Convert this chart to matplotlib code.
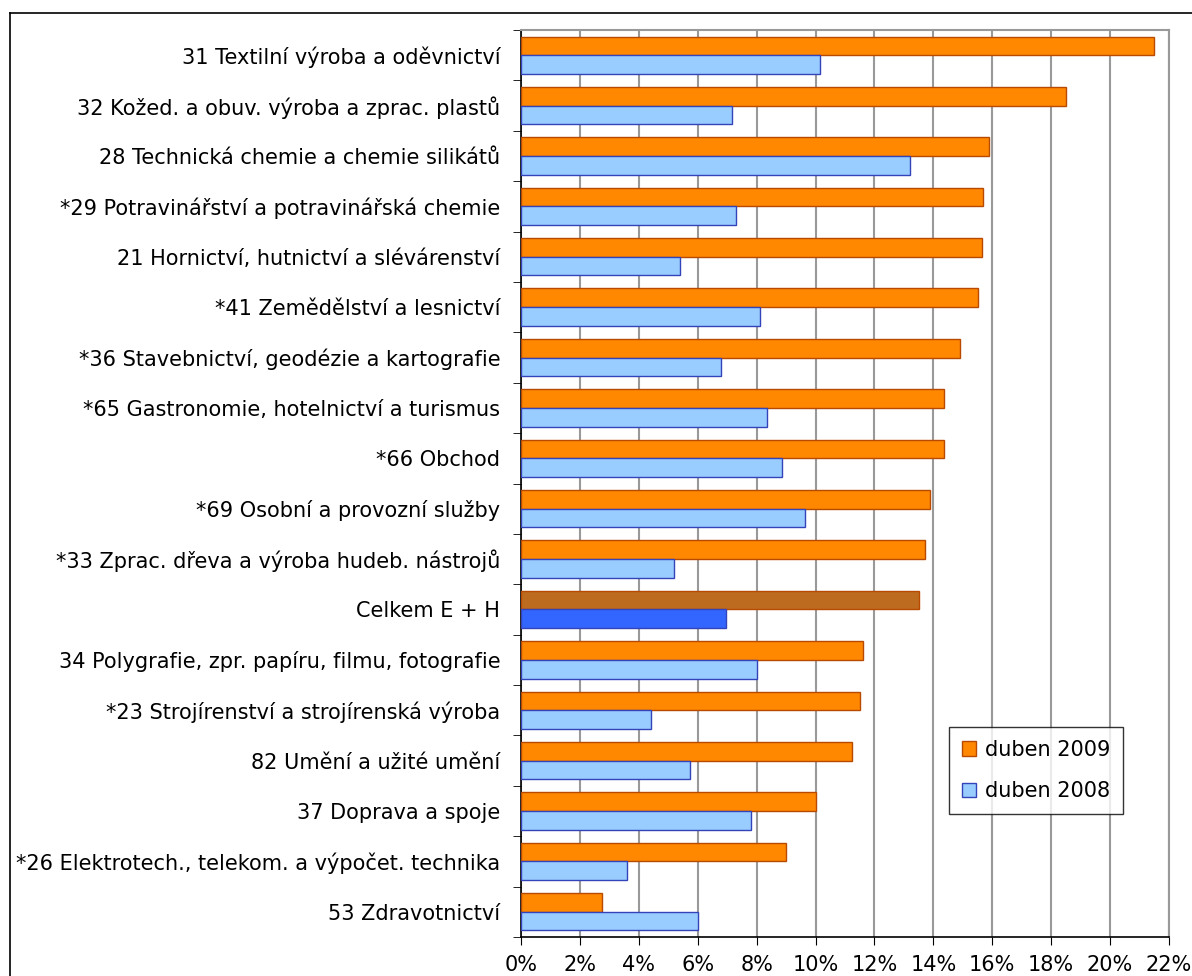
import matplotlib.pyplot as plt
import numpy as np
from matplotlib.lines import Line2D
from matplotlib.patches import Patch

categories = [
    "31 Textilní výroba a oděvnictví",
    "32 Kožed. a obuv. výroba a zprac. plastů",
    "28 Technická chemie a chemie silikátů",
    "*29 Potravinářství a potravinářská chemie",
    "21 Hornictví, hutnictví a slévárenství",
    "*41 Zemědělství a lesnictví",
    "*36 Stavebnictví, geodézie a kartografie",
    "*65 Gastronomie, hotelnictví a turismus",
    "*66 Obchod",
    "*69 Osobní a provozní služby",
    "*33 Zprac. dřeva a výroba hudeb. nástrojů",
    "Celkem E + H",
    "34 Polygrafie, zpr. papíru, filmu, fotografie",
    "*23 Strojírenství a strojírenská výroba",
    "82 Umění a užité umění",
    "37 Doprava a spoje",
    "*26 Elektrotech., telekom. a výpočet. technika",
    "53 Zdravotnictví",
]
duben_2009 = [21.5, 18.5, 15.9, 15.7, 15.65, 15.5, 14.9, 14.35, 14.35, 13.9,
              13.7, 13.5, 11.6, 11.5, 11.25, 10.0, 9.0, 2.75]
duben_2008 = [10.15, 7.15, 13.2, 7.3, 5.4, 8.1, 6.8, 8.35, 8.85, 9.65,
              5.2, 6.95, 8.0, 4.4, 5.75, 7.8, 3.6, 6.0]
xticks = list(range(0, 23, 2))
total_label = "Celkem E + H"

plt.rcParams['font.family'] = ['DejaVu Sans']

fig = plt.figure(figsize=(11.92, 9.76), dpi=100)
ax = fig.add_axes([521 / 1192, 1 - 937 / 976, 648 / 1192, 907 / 976])

y = np.arange(len(categories))
h = 0.37
c09 = ['#BD6B1F' if c == total_label else '#FF8800' for c in categories]
c08 = ['#3366FF' if c == total_label else '#99CCFF' for c in categories]
ax.barh(y - h / 2, duben_2009, height=h, color=c09, edgecolor='#B84A00', linewidth=1, zorder=3)
ax.barh(y + h / 2, duben_2008, height=h, color=c08, edgecolor='#3344BB', linewidth=1, zorder=3)

ax.set_xlim(0, 22)
ax.set_ylim(len(categories) - 0.5, -0.5)
ax.set_xticks(xticks)
ax.set_xticklabels([f"{v}%" for v in xticks], fontsize=15)
ax.set_yticks(y)
ax.set_yticklabels(categories, fontsize=15)
ax.tick_params(axis='y', length=0, pad=15)
ax.set_yticks(np.arange(-0.5, len(categories), 1), minor=True)
ax.tick_params(axis='y', which='minor', length=6, direction='out', color='black')
ax.tick_params(axis='x', length=6, direction='out', pad=7, color='black')

ax.grid(axis='x', color='#999999', linewidth=1.5, zorder=0)
ax.set_axisbelow(True)
for s in ['top', 'right']:
    ax.spines[s].set_color('#999999')
    ax.spines[s].set_linewidth(1.5)
for s in ['left', 'bottom']:
    ax.spines[s].set_color('black')
    ax.spines[s].set_linewidth(1.2)

handles = [Patch(facecolor='#FF8800', edgecolor='#B84A00', label='duben 2009'),
           Patch(facecolor='#99CCFF', edgecolor='#3344BB', label='duben 2008')]
leg = ax.legend(handles=handles, loc='upper left', bbox_to_anchor=(428 / 648, 1 - 697 / 907),
                fontsize=15, frameon=True, fancybox=False, edgecolor='black',
                handlelength=0.7, handleheight=0.7, labelspacing=1.05, borderpad=0.6,
                handletextpad=0.45, borderaxespad=0)
leg.get_frame().set_linewidth(1.0)

# outer chart border
fig.add_artist(Line2D([10 / 1192, 10 / 1192], [0, 1 - 13 / 976], color='black', lw=1.2, transform=fig.transFigure))
fig.add_artist(Line2D([10 / 1192, 1], [1 - 13 / 976, 1 - 13 / 976], color='black', lw=1.2, transform=fig.transFigure))

fig.savefig('out.png', dpi=100)
